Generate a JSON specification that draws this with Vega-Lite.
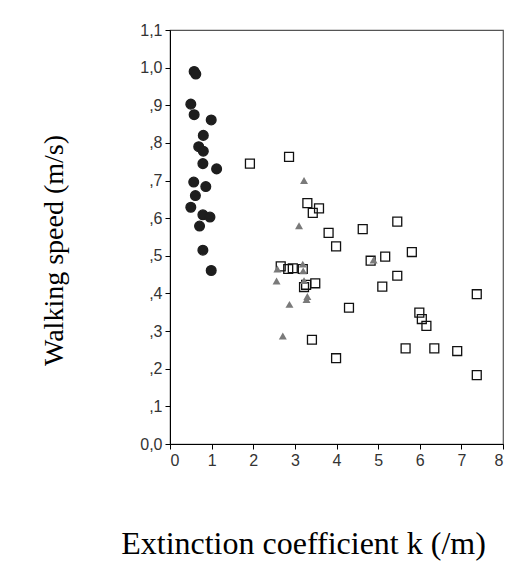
{
  "$schema": "https://vega.github.io/schema/vega-lite/v6.json",
  "autosize": {"type": "none"},
  "padding": {"left": 170, "top": 30, "right": 23, "bottom": 141},
  "width": 333,
  "height": 414,
  "background": "white",
  "config": {
    "view": {"stroke": "#555", "strokeWidth": 1.2},
    "axis": {"grid": false, "domainColor": "#000", "tickColor": "#000", "labelColor": "#333", "labelFont": "Liberation Sans", "labelFontSize": 16, "titleFont": "Liberation Serif", "titleFontWeight": "normal", "titleColor": "#000", "tickSize": 5}
  },
  "data": {
    "values": [
      {"k": 0.58, "v": 0.99, "g": "A"},
      {"k": 0.62, "v": 0.983, "g": "A"},
      {"k": 0.50, "v": 0.903, "g": "A"},
      {"k": 0.58, "v": 0.875, "g": "A"},
      {"k": 0.99, "v": 0.861, "g": "A"},
      {"k": 0.80, "v": 0.820, "g": "A"},
      {"k": 0.69, "v": 0.790, "g": "A"},
      {"k": 0.80, "v": 0.778, "g": "A"},
      {"k": 0.79, "v": 0.745, "g": "A"},
      {"k": 1.12, "v": 0.731, "g": "A"},
      {"k": 0.57, "v": 0.696, "g": "A"},
      {"k": 0.86, "v": 0.684, "g": "A"},
      {"k": 0.61, "v": 0.660, "g": "A"},
      {"k": 0.50, "v": 0.629, "g": "A"},
      {"k": 0.79, "v": 0.609, "g": "A"},
      {"k": 0.96, "v": 0.603, "g": "A"},
      {"k": 0.71, "v": 0.579, "g": "A"},
      {"k": 0.79, "v": 0.515, "g": "A"},
      {"k": 0.99, "v": 0.461, "g": "A"},
      {"k": 1.92, "v": 0.745, "g": "B"},
      {"k": 2.86, "v": 0.763, "g": "B"},
      {"k": 3.30, "v": 0.640, "g": "B"},
      {"k": 3.58, "v": 0.626, "g": "B"},
      {"k": 3.43, "v": 0.614, "g": "B"},
      {"k": 3.81, "v": 0.561, "g": "B"},
      {"k": 4.63, "v": 0.571, "g": "B"},
      {"k": 5.46, "v": 0.591, "g": "B"},
      {"k": 3.99, "v": 0.525, "g": "B"},
      {"k": 5.81, "v": 0.510, "g": "B"},
      {"k": 5.17, "v": 0.498, "g": "B"},
      {"k": 4.82, "v": 0.487, "g": "B"},
      {"k": 2.66, "v": 0.472, "g": "B"},
      {"k": 2.84, "v": 0.465, "g": "B"},
      {"k": 2.95, "v": 0.467, "g": "B"},
      {"k": 3.19, "v": 0.465, "g": "B"},
      {"k": 5.46, "v": 0.447, "g": "B"},
      {"k": 5.10, "v": 0.418, "g": "B"},
      {"k": 3.49, "v": 0.427, "g": "B"},
      {"k": 3.27, "v": 0.423, "g": "B"},
      {"k": 3.22, "v": 0.417, "g": "B"},
      {"k": 7.37, "v": 0.398, "g": "B"},
      {"k": 4.30, "v": 0.362, "g": "B"},
      {"k": 5.99, "v": 0.349, "g": "B"},
      {"k": 6.05, "v": 0.332, "g": "B"},
      {"k": 6.16, "v": 0.314, "g": "B"},
      {"k": 3.41, "v": 0.277, "g": "B"},
      {"k": 5.66, "v": 0.254, "g": "B"},
      {"k": 6.35, "v": 0.254, "g": "B"},
      {"k": 6.90, "v": 0.247, "g": "B"},
      {"k": 3.99, "v": 0.228, "g": "B"},
      {"k": 7.37, "v": 0.183, "g": "B"},
      {"k": 3.22, "v": 0.700, "g": "C"},
      {"k": 3.10, "v": 0.580, "g": "C"},
      {"k": 2.58, "v": 0.465, "g": "C"},
      {"k": 3.19, "v": 0.478, "g": "C"},
      {"k": 3.20, "v": 0.460, "g": "C"},
      {"k": 2.56, "v": 0.433, "g": "C"},
      {"k": 3.22, "v": 0.434, "g": "C"},
      {"k": 4.89, "v": 0.489, "g": "C"},
      {"k": 3.30, "v": 0.392, "g": "C"},
      {"k": 3.28, "v": 0.384, "g": "C"},
      {"k": 2.87, "v": 0.371, "g": "C"},
      {"k": 2.71, "v": 0.287, "g": "C"}
    ]
  },
  "mark": {"type": "point", "filled": true, "opacity": 1, "strokeWidth": 1.3},
  "encoding": {
    "x": {
      "field": "k", "type": "quantitative",
      "scale": {"domain": [0, 8], "nice": false, "zero": false},
      "axis": {"values": [0,1,2,3,4,5,6,7,8], "labelPadding": 3, "title": "Extinction coefficient k (/m)", "titleFontSize": 32, "titleAnchor": "middle", "titleX": 133, "titleY": 109, "titleBaseline": "alphabetic"}
    },
    "y": {
      "field": "v", "type": "quantitative",
      "scale": {"domain": [0, 1.1], "nice": false, "zero": false},
      "axis": {"values": [0,0.1,0.2,0.3,0.4,0.5,0.6,0.7,0.8,0.9,1.0,1.1], "labelPadding": 3,
        "labelExpr": "datum.value < 0.05 ? '0,0' : (datum.value < 0.95 ? ',' + format(datum.value * 10, '.0f') : replace(format(datum.value, '.1f'), '.', ','))",
        "title": "Walking speed (m/s)", "titleFontSize": 28, "titleAnchor": "middle", "titleAngle": -90, "titleX": -108, "titleY": 220, "titleBaseline": "alphabetic"}
    },
    "shape": {"field": "g", "type": "nominal", "scale": {"domain": ["A","B","C"], "range": ["circle","square","triangle-up"]}, "legend": null},
    "fill": {"field": "g", "type": "nominal", "scale": {"domain": ["A","B","C"], "range": ["#1e1e1e","transparent","#7a7a7a"]}, "legend": null},
    "stroke": {"field": "g", "type": "nominal", "scale": {"domain": ["A","B","C"], "range": ["#1e1e1e","#111111","transparent"]}, "legend": null},
    "size": {"field": "g", "type": "nominal", "scale": {"domain": ["A","B","C"], "range": [95, 64, 30]}, "legend": null}
  }
}
